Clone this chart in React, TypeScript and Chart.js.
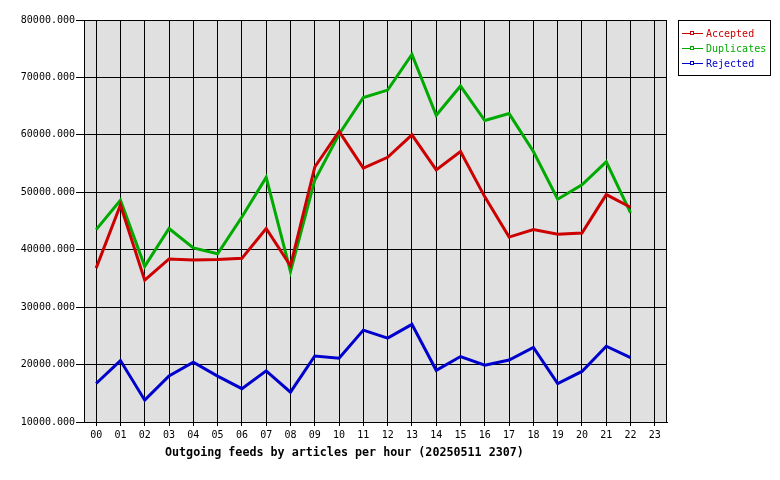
import React, { useEffect, useRef } from "react";
import { Chart, registerables } from "chart.js";

Chart.register(...registerables);

const hours = ["00","01","02","03","04","05","06","07","08","09","10","11","12","13","14","15","16","17","18","19","20","21","22","23"];
const accepted = [36800, 47800, 34700, 38400, 38200, 38300, 38500, 43700, 37200, 54400, 60600, 54200, 56100, 60000, 53900, 57100, 49200, 42200, 43500, 42700, 42900, 49600, 47400, null];
const duplicates = [43500, 48600, 37100, 43700, 40300, 39300, 45700, 52600, 36200, 52100, 60100, 66500, 67800, 74000, 63400, 68500, 62500, 63700, 57100, 48800, 51300, 55300, 46400, null];
const rejected = [16700, 20700, 13800, 18000, 20400, 18000, 15800, 18900, 15200, 21500, 21100, 26000, 24600, 27000, 19000, 21400, 19900, 20800, 23000, 16700, 18800, 23200, 21200, null];
const yTicks = [10000, 20000, 30000, 40000, 50000, 60000, 70000, 80000];
const titleText = "Outgoing feeds by articles per hour (20250511 2307)";

const seriesNames = ["Accepted", "Duplicates", "Rejected"];
const seriesColors = ["#cc0000", "#00aa00", "#0000cc"];

const FONT = "'DejaVu Sans Mono', monospace";

const decorPlugin = {
  id: "decor",
  beforeDraw(chart: any) {
    const { ctx, chartArea } = chart;
    ctx.save();
    ctx.fillStyle = "#ffffff";
    ctx.fillRect(0, 0, chart.width, chart.height);
    ctx.fillStyle = "#e0e0e0";
    ctx.fillRect(chartArea.left, chartArea.top, chartArea.right - chartArea.left, chartArea.bottom - chartArea.top);
    ctx.restore();
  },
  afterDraw(chart: any) {
    const { ctx, chartArea } = chart;
    ctx.save();
    ctx.strokeStyle = "#000";
    ctx.lineWidth = 1;
    ctx.strokeRect(Math.round(chartArea.left) + 0.5, Math.round(chartArea.top) + 0.5,
      Math.round(chartArea.right - chartArea.left) - 1, Math.round(chartArea.bottom - chartArea.top));
    // title
    ctx.fillStyle = "#000";
    ctx.font = "bold 11.7px " + FONT;
    ctx.textBaseline = "middle";
    ctx.textAlign = "left";
    ctx.fillText(titleText, 165, 452.5);
    // legend
    ctx.fillStyle = "#fff";
    ctx.fillRect(678.5, 20.5, 92, 55);
    ctx.strokeStyle = "#000";
    ctx.strokeRect(678.5, 20.5, 92, 55);
    ctx.font = "10px " + FONT;
    seriesNames.forEach((name, i) => {
      const y = 33 + i * 15;
      ctx.strokeStyle = seriesColors[i];
      ctx.lineWidth = 1;
      ctx.beginPath();
      ctx.moveTo(682, y + 0.5);
      ctx.lineTo(703, y + 0.5);
      ctx.stroke();
      ctx.fillStyle = "#fff";
      ctx.fillRect(690.5, y - 1.5, 3, 3);
      ctx.strokeRect(690.5, y - 1.5, 3, 3);
      ctx.fillStyle = seriesColors[i];
      ctx.fillText(name, 706, y + 1);
    });
    ctx.restore();
  },
};

export default function App() {
  const ref = useRef<HTMLCanvasElement>(null);
  useEffect(() => {
    if (!ref.current) return;
    const data = [accepted, duplicates, rejected];
    const chart = new Chart(ref.current, {
      type: "line",
      data: {
        labels: hours,
        datasets: seriesNames.map((n, i) => ({
          label: n,
          data: data[i],
          borderColor: seriesColors[i],
          backgroundColor: seriesColors[i],
          borderWidth: 3,
          pointRadius: 0,
          tension: 0,
          fill: false,
        })),
      },
      options: {
        responsive: false,
        animation: false,
        layout: { padding: { left: 0, top: 20, right: 113, bottom: 0 } },
        plugins: { legend: { display: false }, title: { display: false }, tooltip: { enabled: false } },
        scales: {
          x: {
            offset: true,
            grid: { color: "#000", lineWidth: 1, offset: false, tickLength: 4, drawOnChartArea: true },
            border: { display: true, color: "#000" },
            ticks: { color: "#000", font: { family: FONT, size: 10 }, padding: 3, maxRotation: 0, autoSkip: false },
            afterFit(scale: any) { scale.height = 58; },
          },
          y: {
            min: 10000,
            max: 80000,
            afterBuildTicks(scale: any) { scale.ticks = yTicks.map((v) => ({ value: v })); },
            grid: { color: "#000", lineWidth: 1, tickLength: 8 },
            border: { display: true, color: "#000" },
            ticks: {
              color: "#000",
              font: { family: FONT, size: 10 },
              padding: 1,
              callback: (v: any) => Number(v).toFixed(3),
            },
            afterFit(scale: any) { scale.width = 84; },
          },
        },
      },
      plugins: [decorPlugin],
    });
    return () => chart.destroy();
  }, []);
  return (
    <div style={{ position: "absolute", left: 0, top: 0, width: 780, height: 480 }}>
      <canvas ref={ref} width={780} height={480} />
    </div>
  );
}
